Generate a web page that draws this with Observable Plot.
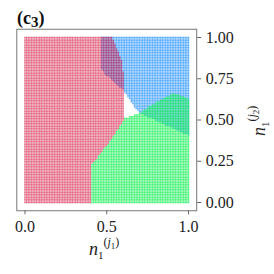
<!DOCTYPE html>
<html><head><meta charset="utf-8">
<script src="https://cdn.jsdelivr.net/npm/d3@7"></script>
<script src="https://cdn.jsdelivr.net/npm/@observablehq/plot@0.6"></script>
<style>body{margin:0;background:#fff} svg{display:block}</style>
</head><body><div id="chart"></div>
<script>
// sampling lattice of the parameter plane
const gridValues = d3.range(0, 101).map(i => i / 100);
// region outlines, [n1(j1), n1(j2)]
const redRegion = [[-0.1,-0.1],[0.401,-0.1],[0.401,0.224],[0.443,0.273],[0.523,0.376],[0.602,0.497],[0.602,0.770],[0.596,0.848],[0.566,0.921],[0.535,1.0],[0.535,1.1],[-0.1,1.1]];
const blueRegion = [[0.468,1.1],[0.468,0.810],[0.49,0.775],[0.54,0.738],[0.602,0.679],[0.694,0.545],[1.1,0.361],[1.1,1.1]];
const greenRegion = [[-0.1,-0.1],[1.1,-0.1],[1.1,0.61],[1.0,0.63],[0.908,0.661],[0.80,0.605],[0.694,0.539],[0.602,0.509],[-0.1,0.509]];
const xTicks = [0, 0.5, 1];
const yTicks = [0, 0.25, 0.5, 0.75, 1];

const lattice = gridValues.flatMap(y => gridValues.map(x => ({x, y})));
const redPts = lattice.filter(p => d3.polygonContains(redRegion, [p.x, p.y]));
const bluePts = lattice.filter(p => d3.polygonContains(blueRegion, [p.x, p.y]));
const greenPts = lattice.filter(p => d3.polygonContains(greenRegion, [p.x, p.y]) && !d3.polygonContains(redRegion, [p.x, p.y]));

const chart = Plot.plot({
  width: 274, height: 274,
  marginLeft: 16.3, marginRight: 77.8, marginTop: 28.75, marginBottom: 63.75,
  x: {domain: [-0.05, 1.05]},
  y: {domain: [-0.05, 1.05]},
  style: {fontFamily: "Liberation Serif", fontSize: "16px", color: "#222", background: "white"},
  marks: [
    Plot.dot(bluePts, {x: "x", y: "y", symbol: "square", r: 0.8, fill: "#3d9eff", fillOpacity: 0.9}),
    Plot.dot(redPts, {x: "x", y: "y", symbol: "square", r: 0.8, fill: "#d4123e", fillOpacity: 0.66}),
    Plot.dot(greenPts, {x: "x", y: "y", symbol: "square", r: 0.8, fill: "#1ff05a", fillOpacity: 0.85}),
    Plot.frame({stroke: "#777"}),
    Plot.axisX({ticks: xTicks, tickFormat: d => d.toFixed(1), tickSize: 4, tickPadding: 6, label: null, stroke: "#666"}),
    Plot.axisY({anchor: "right", ticks: yTicks, tickFormat: d => d.toFixed(2), tickSize: 4, tickPadding: 5, label: null, stroke: "#666"})
  ]
});
document.getElementById("chart").appendChild(chart);
const svg = d3.select(chart);

// panel title (c3)
const t = svg.append("text").attr("x", 17).attr("y", 24).attr("text-anchor", "start")
  .attr("font-family", "Liberation Serif").attr("font-weight", "bold").attr("font-size", 18).attr("fill", "#111");
t.append("tspan").text("(c");
t.append("tspan").attr("dy", 3).attr("font-size", 15).text("3");
t.append("tspan").attr("dy", -3).text(")");

function label(sel, sub) {
  sel.attr("font-family", "Liberation Serif").attr("fill", "#222").attr("text-anchor", "start");
  sel.append("tspan").attr("font-style", "italic").attr("font-size", 18).text("n");
  sel.append("tspan").attr("font-size", 11).attr("dy", 4).text("1");
  sel.append("tspan").attr("font-size", 12).attr("dy", -13).text("(");
  sel.append("tspan").attr("font-size", 12).attr("font-style", "italic").text("j");
  sel.append("tspan").attr("font-size", 9).attr("dy", 2.5).text(sub);
  sel.append("tspan").attr("font-size", 12).attr("dy", -2.5).text(")");
}
label(svg.append("text").attr("x", 89).attr("y", 255), "1");
label(svg.append("text").attr("transform", "translate(265,136) rotate(-90)"), "2");
</script>
</body></html>
